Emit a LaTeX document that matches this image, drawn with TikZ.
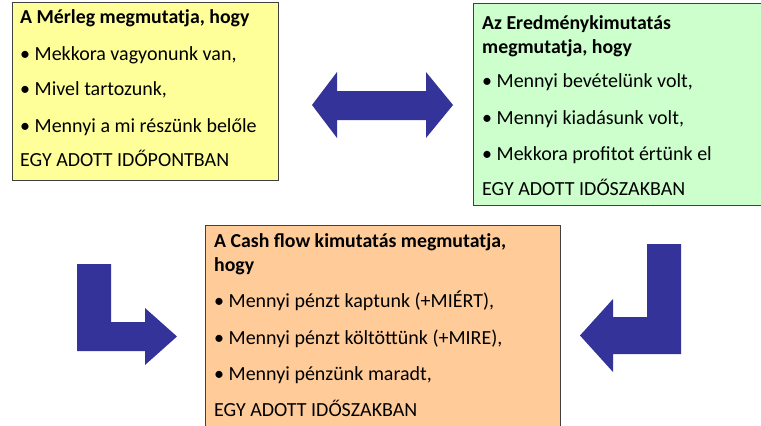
\documentclass[tikz,border=0pt]{standalone}
\usepackage{fontspec}
\setmainfont{Carlito}
\definecolor{merlegsarga}{HTML}{FFFF99}
\definecolor{eredmzold}{HTML}{CCFFCC}
\definecolor{cashnarancs}{HTML}{FFCC99}
\definecolor{nyilkek}{HTML}{333399}
\tikzset{
  doboz/.style={draw=black!75,line width=0.8pt,anchor=north west,inner sep=0pt},
  sor/.style={anchor=base west,inner sep=0pt,font=\fontsize{20}{24}\selectfont},
  cim/.style={sor,font=\fontsize{19.8}{24}\selectfont\bfseries},
  nyil/.style={fill=nyilkek}
}
\begin{document}
\begin{tikzpicture}[x=1pt,y=-1pt]
\useasboundingbox(0,0)rectangle(761,426);
\clip(0,0)rectangle(761,426);
% dobozok
\node[doboz,fill=merlegsarga,minimum width=266pt,minimum height=178pt](merleg)at(12,2){};
\node[doboz,fill=eredmzold,minimum width=300pt,minimum height=202pt](eredm)at(473,3){};
\node[doboz,fill=cashnarancs,minimum width=355pt,minimum height=220pt](cash)at(205,225){};
% szovegek
\node[cim](merleg0)at([shift={(8,21)}]merleg.north west){A Mérleg megmutatja, hogy};
\foreach \y/\t [count=\i] in {58/{• Mekkora vagyonunk van,},93/{• Mivel tartozunk,},130/{• Mennyi a mi részünk belőle},164/{EGY ADOTT IDŐPONTBAN}}
  \node[sor](merleg\i)at([shift={(8,\y)}]merleg.north west){\t};
\node[cim](eredm0)at([shift={(9,26)}]eredm.north west){Az Eredménykimutatás};
\node[cim](eredm00)at([shift={(9,50)}]eredm.north west){megmutatja, hogy};
\foreach \y/\t [count=\i] in {84/{• Mennyi bevételünk volt,},121/{• Mennyi kiadásunk volt,},157/{• Mekkora profitot értünk el},192/{EGY ADOTT IDŐSZAKBAN}}
  \node[sor](eredm\i)at([shift={(9,\y)}]eredm.north west){\t};
\node[cim](cash0)at([shift={(9,22)}]cash.north west){A Cash flow kimutatás megmutatja,};
\node[cim](cash00)at([shift={(9,46)}]cash.north west){hogy};
\foreach \y/\t [count=\i] in {82/{• Mennyi pénzt kaptunk (+MIÉRT),},119/{• Mennyi pénzt költöttünk (+MIRE),},155/{• Mennyi pénzünk maradt,},191/{EGY ADOTT IDŐSZAKBAN}}
  \node[sor](cash\i)at([shift={(9,\y)}]cash.north west){\t};
% nyilak
\fill[nyil](312,105)--(337,72)--(337,91)--(426,91)--(426,72)--(453,105)--(426,138)--(426,120)--(337,120)--(337,138)--cycle;
\fill[nyil](77,264)--(111,264)--(111,322)--(145,322)--(145,308)--(177,336.5)--(145,365)--(145,351)--(77,351)--cycle;
\fill[nyil](681,244)--(647,244)--(647,317)--(613,317)--(613,299)--(580,335.5)--(613,372)--(613,354)--(681,354)--cycle;
\end{tikzpicture}
\end{document}
